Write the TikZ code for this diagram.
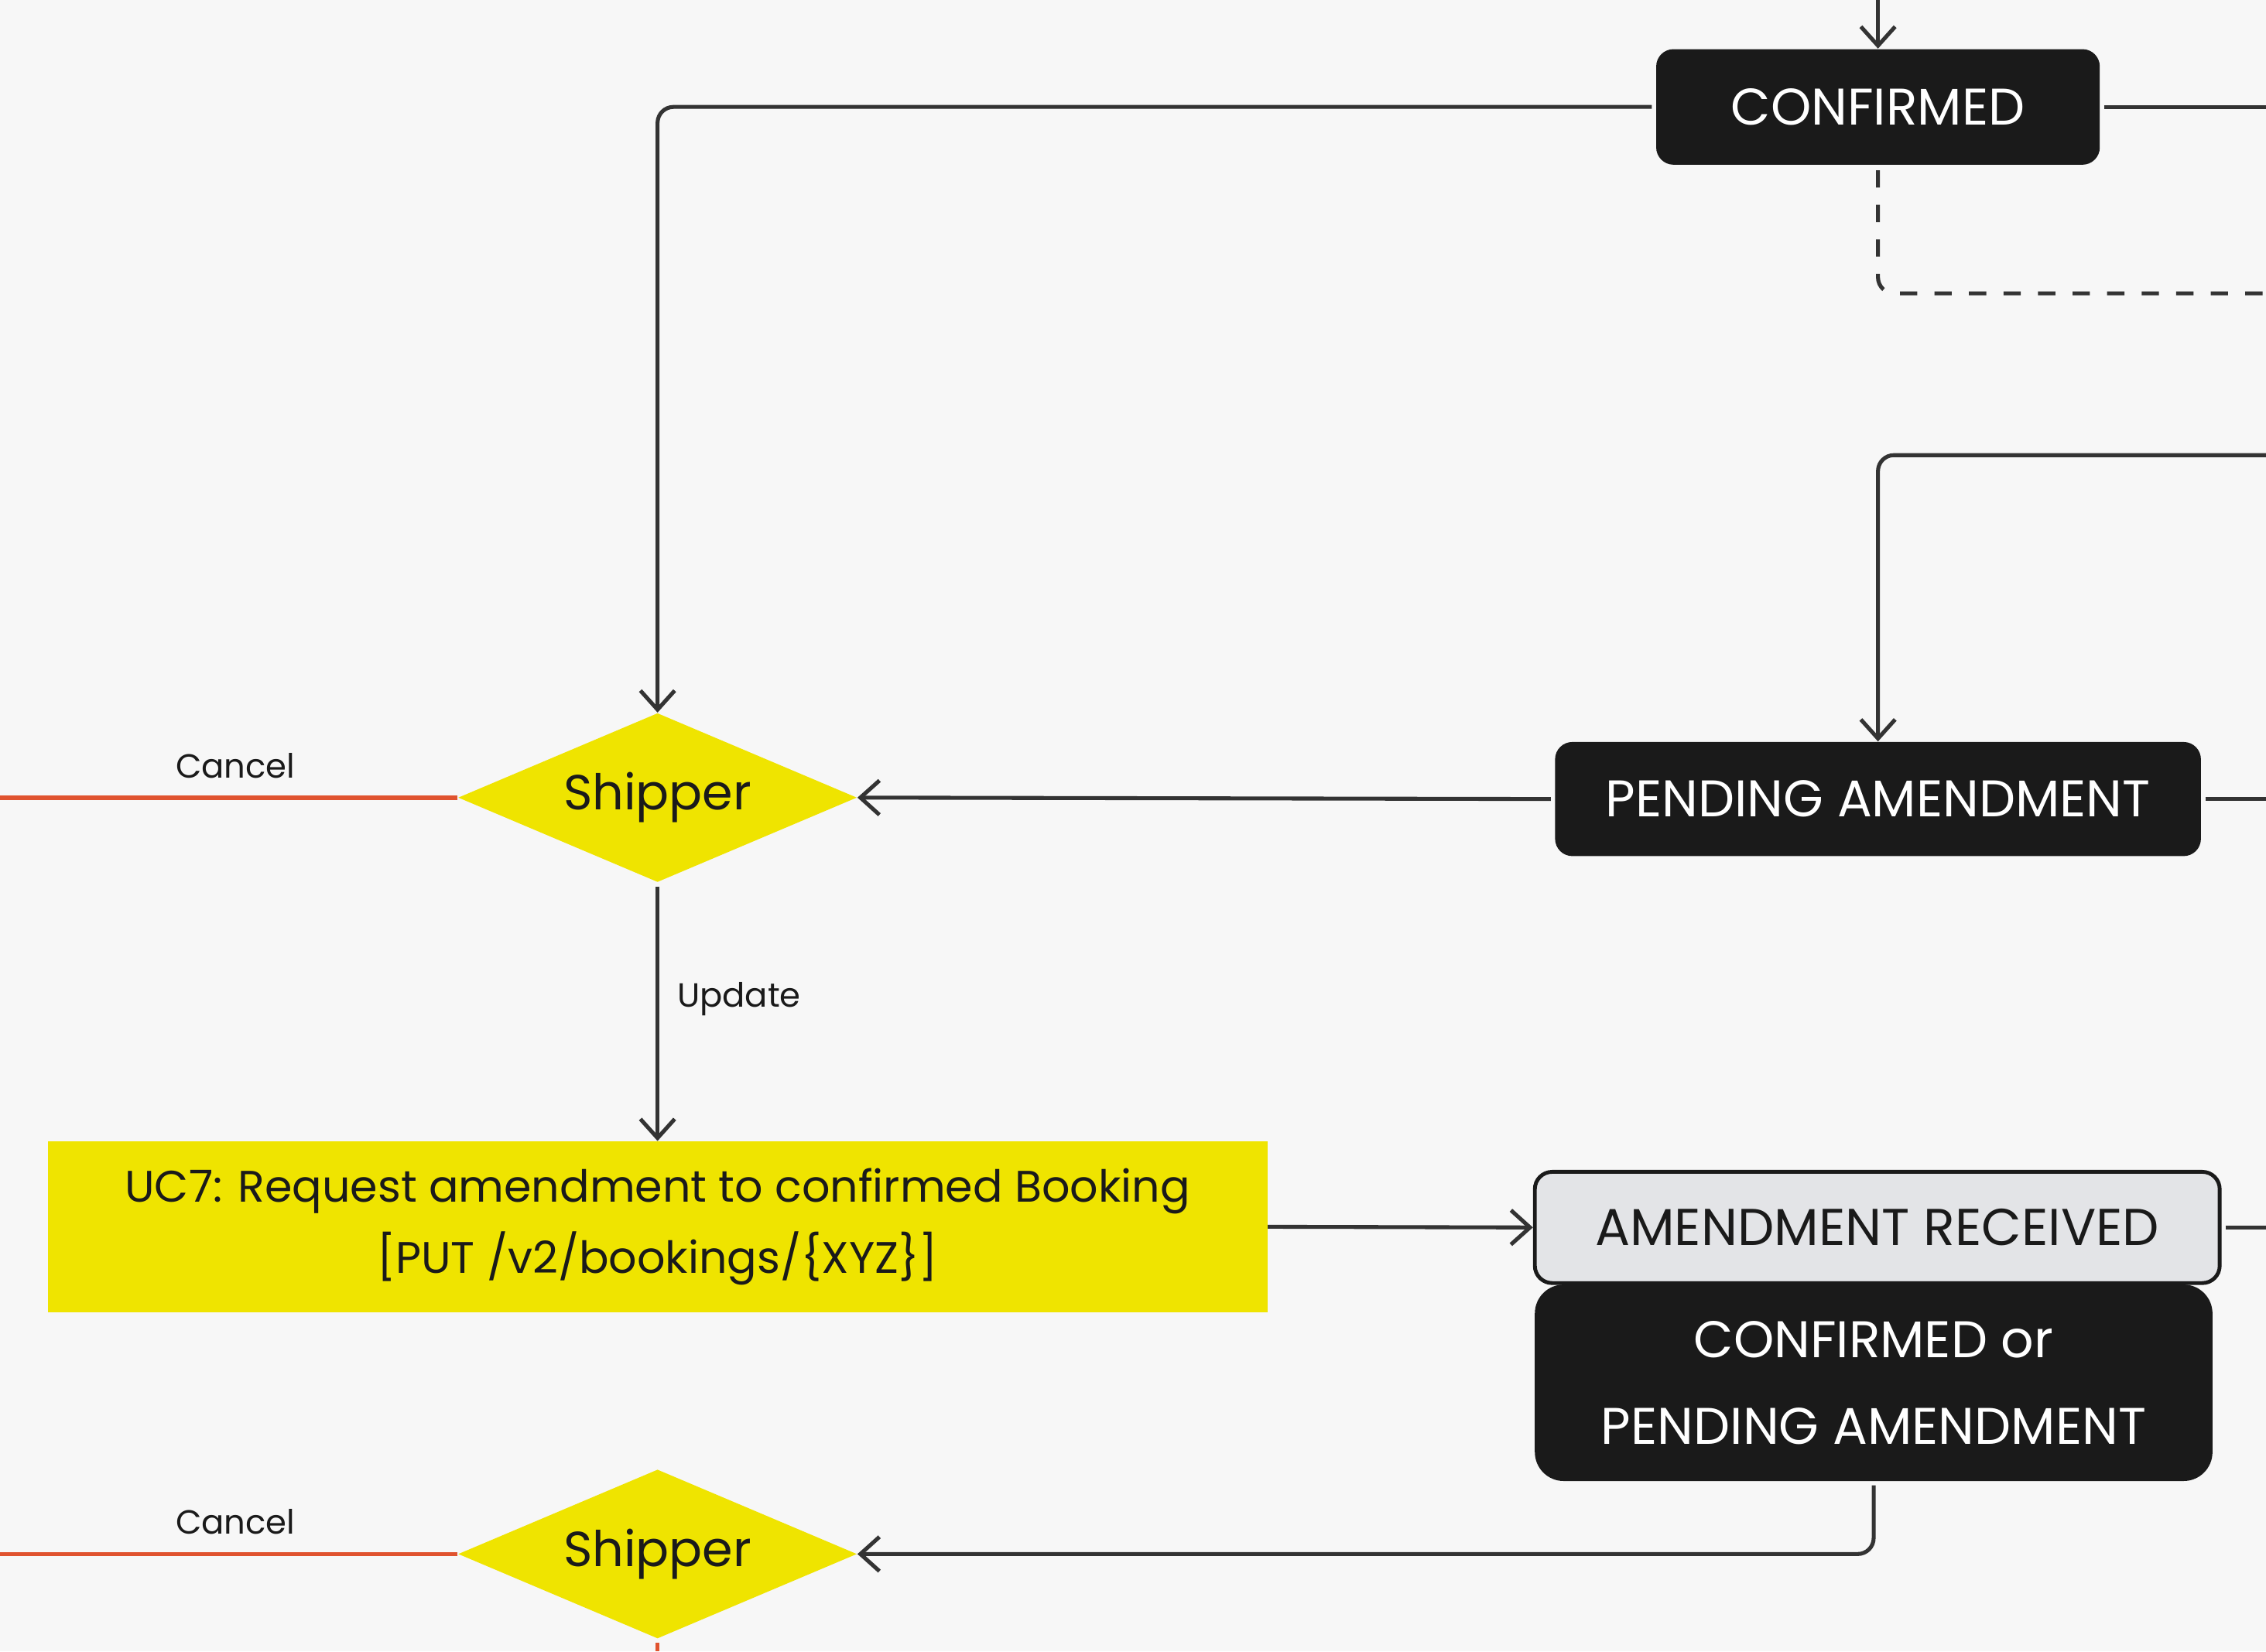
\documentclass[tikz,border=0pt]{standalone}
\usepackage{fontspec}
\setmainfont{Poppins}
\usetikzlibrary{shapes.geometric,arrows.meta}
\definecolor{bg}{RGB}{247,247,247}
\definecolor{ink}{RGB}{26,26,26}
\definecolor{lnc}{RGB}{51,51,51}
\definecolor{ylw}{RGB}{239,228,0}
\definecolor{redl}{RGB}{224,83,47}
\definecolor{grayf}{RGB}{227,228,231}
\tikzset{
  stbox/.style={rectangle, rounded corners=0.24cm, fill=ink, text=white, inner sep=0pt, font=\fontsize{20.3}{34}\selectfont, align=center},
  rcvbox/.style={rectangle, rounded corners=0.24cm, fill=grayf, draw=ink, line width=1.5pt, text=ink, inner sep=0pt, font=\fontsize{20.4}{24}\selectfont},
  ucbox/.style={rectangle, fill=ylw, text=ink, inner sep=0pt, align=center, font=\fontsize{17.4}{28}\selectfont},
  decision/.style={diamond, shape aspect=2.36, fill=ylw, text=ink, inner sep=0pt, minimum width=5.52cm, minimum height=2.34cm, font=\fontsize{19.4}{24}\selectfont},
  ln/.style={draw=lnc, line width=1.55pt},
  arr/.style={ln, -{Straight Barb[length=7.5pt, width=13.5pt, line width=1.55pt]}},
  dln/.style={ln, dash pattern=on 6.8pt off 6.8pt},
  redln/.style={draw=redl, line width=1.7pt},
  lbl/.style={text=ink, inner sep=0pt, font=\fontsize{13.2}{16}\selectfont}
}
\begin{document}
\begin{tikzpicture}[x=0.02cm, y=-0.02cm]
\fill[bg] (0,0) rectangle (1568,1143);
\useasboundingbox (0,0) rectangle (1568,1143);

% nodes
\node[stbox, minimum width=6.14cm, minimum height=1.6cm] (conf) at (1299.5,74) {CONFIRMED};
\node[stbox, minimum width=8.94cm, minimum height=1.58cm] (pend) at (1299.5,553) {PENDING AMENDMENT};
\node[decision] (ship1) at (455,552) {Shipper};
\node[ucbox, minimum width=16.88cm, minimum height=2.36cm] (uc7) at (455,849) {UC7: Request amendment to confirmed Booking\\{}[PUT /v2/bookings/\{XYZ\}]};
\node[rcvbox, minimum width=9.48cm, minimum height=1.54cm] (amrec) at (1299,849.5) {AMENDMENT RECEIVED};
\node[stbox, rounded corners=0.4cm, minimum width=9.38cm, minimum height=2.72cm] (corp) at (1296.5,957) {CONFIRMED or\\PENDING AMENDMENT};
\node[decision] (ship2) at (455,1075.5) {Shipper};

% free ends
\coordinate (topin) at (1299.5,0);
\coordinate (e1) at (1568,74);
\coordinate (e2) at (1568,203);
\coordinate (e3) at (1568,315);
\coordinate (e4) at (1568,553);
\coordinate (e5) at (1568,849.5);
\coordinate (w1) at (0,552);
\coordinate (w2) at (0,1075.5);
\coordinate (b2) at (455,1143);

% connectors
\draw[arr] (topin) -- (conf.north);
\draw[ln, shorten <=1.5pt] (conf.east) -- (e1);
\draw[arr, rounded corners=0.22cm, shorten <=1.5pt] (conf.west) -| (ship1.north);
\draw[dln, rounded corners=0.22cm, shorten <=2pt] (conf.south) |- (e2);
\draw[arr, rounded corners=0.22cm] (e3) -| (pend.north);
\draw[ln, shorten <=1.5pt] (pend.east) -- (e4);
\draw[arr, shorten <=1.5pt] (pend.west) -- (ship1.east);
\draw[redln] (ship1.west) -- (w1);
\draw[arr, shorten <=1.5pt] (ship1.south) -- node[lbl, anchor=west, pos=0.45, xshift=7pt] (upd) {Update} (uc7.north);
\draw[arr] (uc7.east) -- (amrec.west);
\draw[ln, shorten <=1.5pt] (amrec.east) -- (e5);
\draw[arr, rounded corners=0.22cm, shorten <=1.5pt] (corp.south) |- (ship2.east);
\draw[redln] (ship2.west) -- (w2);
\draw[redln, shorten <=1.5pt] (ship2.south) -- (b2);

% labels
\node[lbl] (can1) at (163,530) {Cancel};
\node[lbl] (can2) at (163,1053) {Cancel};
\end{tikzpicture}
\end{document}
